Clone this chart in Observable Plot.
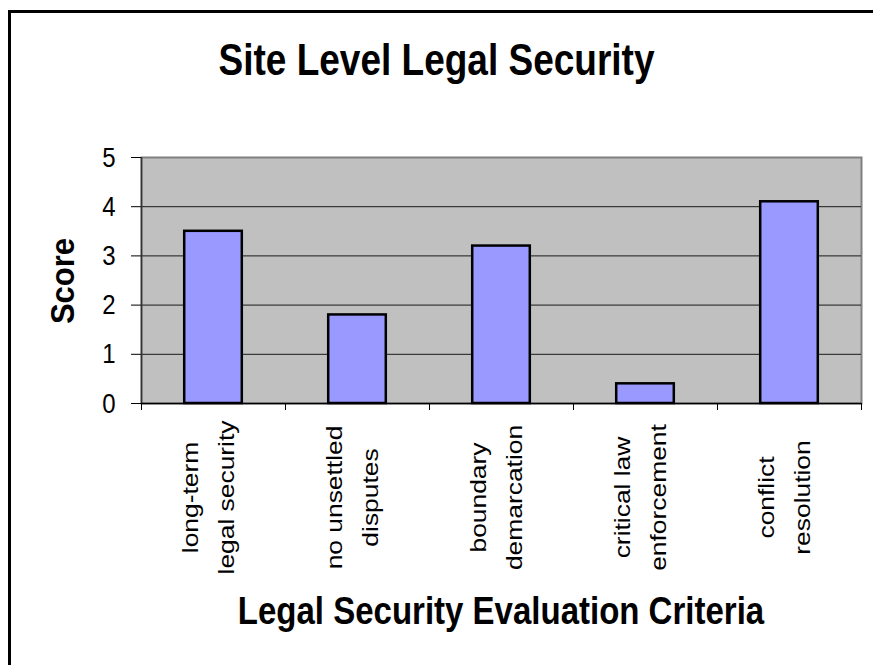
<!DOCTYPE html>
<html><head><meta charset="utf-8">
<script src="https://cdn.jsdelivr.net/npm/d3@7"></script>
<script src="https://cdn.jsdelivr.net/npm/@observablehq/plot@0.6"></script>
<style>
body{margin:0;background:#fff;}
#wrap{position:relative;width:873px;height:665px;overflow:hidden;font-family:Arial,"Liberation Sans",sans-serif;}
#border{position:absolute;left:8px;top:10px;width:1000px;height:1000px;border:3px solid #000;box-sizing:border-box;}
#chart{position:absolute;left:0;top:0;}
.lbl{position:absolute;font-weight:bold;color:#000;white-space:nowrap;line-height:1;}
#title{left:0;width:873px;text-align:center;top:41px;font-size:37px;transform:scaleY(1.2);transform-origin:50% 50%;}
#xlabel{left:141px;width:720px;text-align:center;top:594px;font-size:33px;transform:scaleY(1.15);transform-origin:50% 50%;}
#ylabel{left:62px;top:281px;font-size:31px;transform:translate(-50%,-50%) rotate(-90deg) scaleY(1.1);}
</style></head>
<body><div id="wrap"><div id="border"></div><div id="chart"></div>
<div class="lbl" id="title">Site Level Legal Security</div>
<div class="lbl" id="xlabel">Legal Security Evaluation Criteria</div>
<div class="lbl" id="ylabel">Score</div></div>
<script>
const categories = ["long-term\nlegal security", "no unsettled\ndisputes", "boundary\ndemarcation", "critical law\nenforcement", "conflict\nresolution"];
const scores = [3.5, 1.8, 3.2, 0.4, 4.1];
const yTicks = [0, 1, 2, 3, 4, 5];
const xBoundaries = [0, 1, 2, 3, 4, 5];

const data = categories.map((c, i) => ({i, label: c, score: scores[i]}));
const font = "Arial, 'Liberation Sans', sans-serif";

const plot = Plot.plot({
  width: 873, height: 665,
  marginLeft: 141, marginRight: 12, marginTop: 157, marginBottom: 262,
  style: {fontFamily: font, background: "transparent", color: "#000", overflow: "visible"},
  x: {type: "linear", domain: [0, 5], axis: null},
  y: {domain: [0, 5], axis: null},
  marks: [
    Plot.frame({fill: "#C0C0C0", stroke: "#808080", strokeWidth: 2}),
    Plot.ruleY(yTicks.filter(t => t > 0 && t < 5), {stroke: "#1a1a1a", strokeWidth: 1}),
    Plot.axisY(yTicks, {anchor: "left", tickSize: 10, tickPadding: 16, fontSize: 24, stroke: "#000", label: null}),
    Plot.axisX(xBoundaries, {anchor: "bottom", tickSize: 7, tickFormat: () => "", stroke: "#000", label: null}),
    Plot.ruleX([0], {stroke: "#333", strokeWidth: 1.5}),
    Plot.ruleY([0], {stroke: "#000", strokeWidth: 1.5}),
    Plot.rectY(data, {x1: d => d.i + 0.3, x2: d => d.i + 0.7, y1: 0, y2: "score", fill: "#9999FF", stroke: "#000", strokeWidth: 2.5}),
    Plot.text(data, {x: d => d.i + 0.5, frameAnchor: "bottom", text: "label", rotate: -90, textAnchor: "middle", lineAnchor: "middle", lineHeight: 1.64, fontSize: 22, dx: -9, dy: 94, fill: "#000"})
  ]
});
document.getElementById("chart").appendChild(plot);

// The reference rendering is stretched vertically (~1.2x); stretch every SVG text about its own centre.
const NS = "http://www.w3.org/2000/svg";
const svgRect = plot.getBoundingClientRect();
Array.from(plot.querySelectorAll("text")).forEach(t => {
  const parent = t.parentNode;
  const r = t.getBoundingClientRect();
  if (!r.height) return;
  const m = parent.getCTM();
  const cy = r.top + r.height / 2 - svgRect.top - (m ? m.f : 0);
  const k = t.querySelector("tspan") ? 1.2 : 1.17;
  const g = document.createElementNS(NS, "g");
  g.setAttribute("transform", `translate(0,${cy}) scale(1,${k}) translate(0,${-cy})`);
  parent.insertBefore(g, t);
  g.appendChild(t);
});
</script>
</body></html>
